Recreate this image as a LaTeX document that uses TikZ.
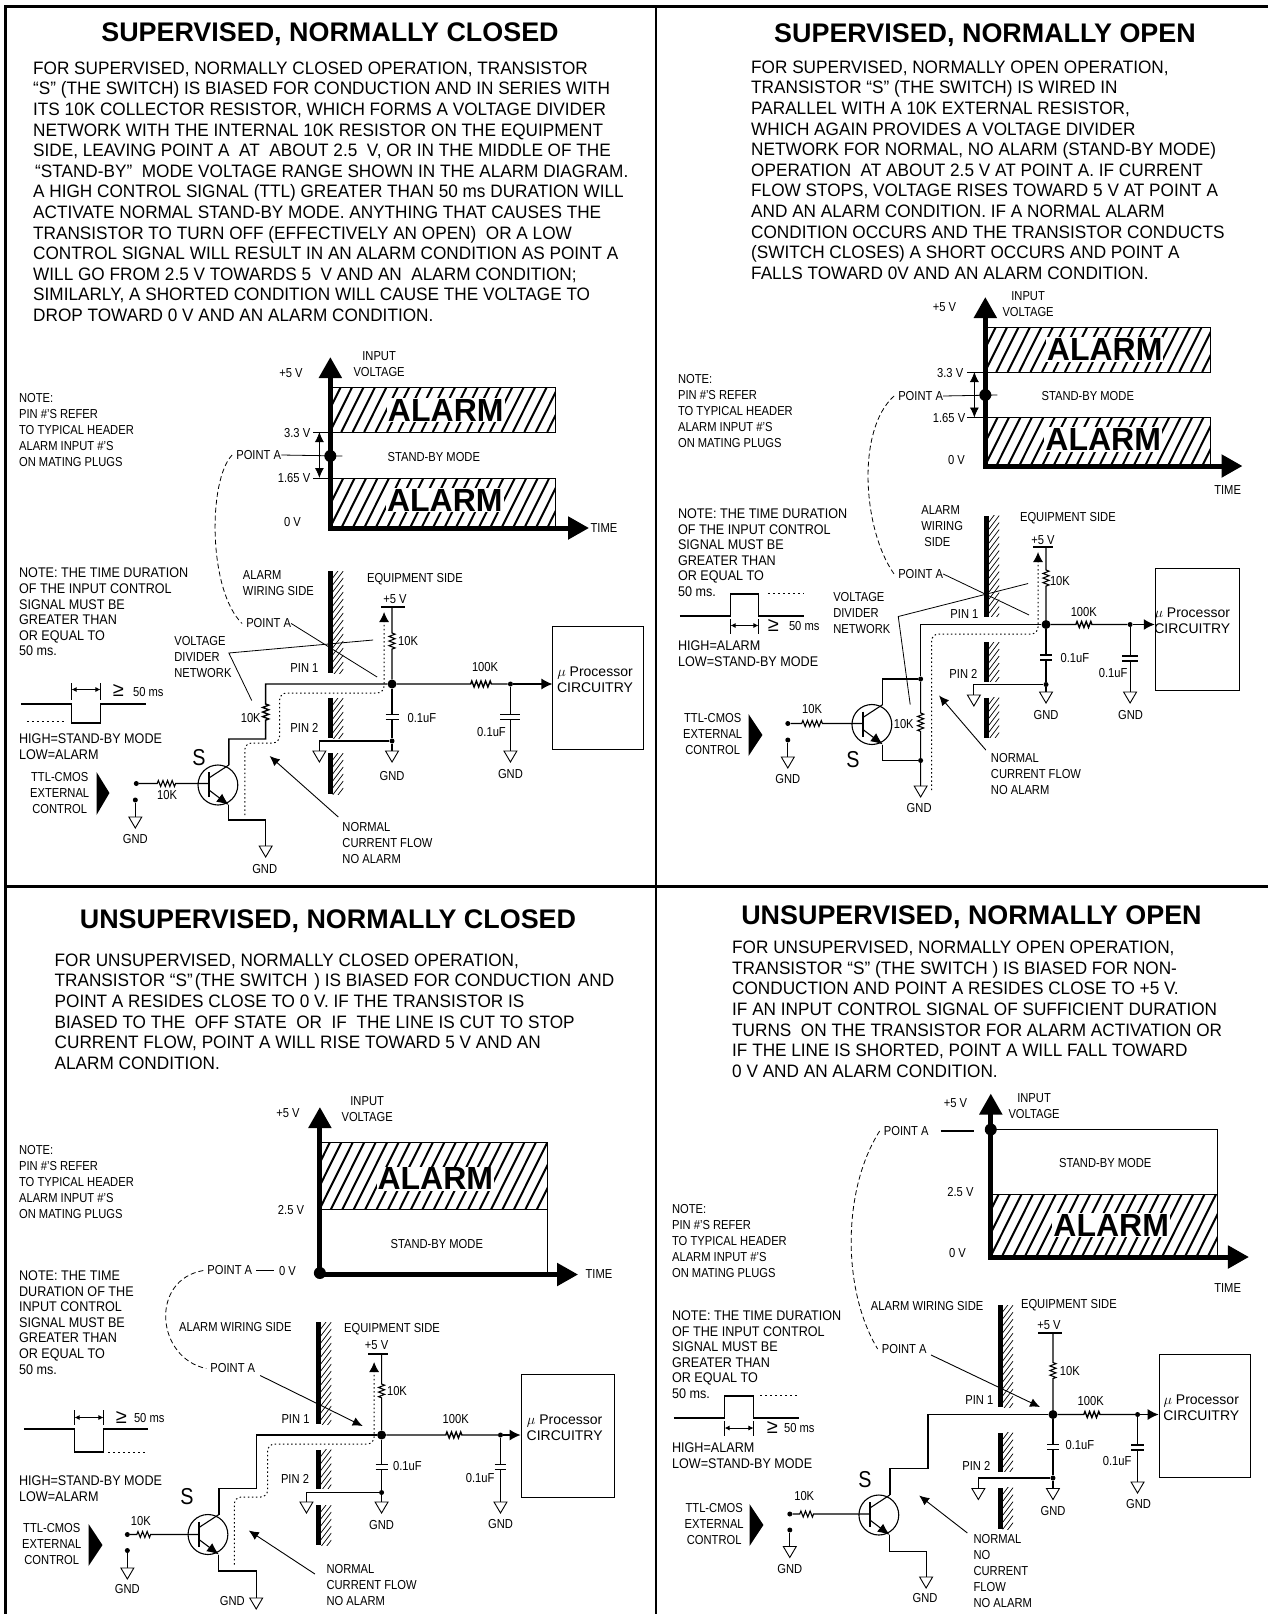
\documentclass[tikz,border=0pt]{standalone}
\usepackage{fontspec}
\setmainfont{Liberation Sans}
\newfontfamily\labelfont[FakeStretch=0.86]{Liberation Sans}
\newfontfamily\notefont[FakeStretch=0.9]{Liberation Sans}
\newfontfamily\bodyfont[FakeStretch=0.955]{Liberation Sans}
\usetikzlibrary{arrows.meta, positioning, decorations.pathmorphing}
\newcommand{\pinnote}{NOTE:\\PIN \#’S REFER\\TO TYPICAL HEADER\\ALARM INPUT \#’S\\ON MATING PLUGS}
\newcommand{\ttlnote}{TTL-CMOS\\EXTERNAL\\CONTROL}
\newcommand{\cpunote}{$\mu$ Processor\\CIRCUITRY}
\tikzset{
    frameline/.style={line width=3pt},
    titletext/.style={font=\bfseries\fontsize{26.9}{30}\selectfont, inner sep=0pt},
    bodytext/.style={font=\bodyfont\fontsize{18}{20.6}\selectfont, anchor=north west, align=left, inner sep=0pt},
    lbl/.style={font=\labelfont\fontsize{13}{16}\selectfont, align=center, inner sep=0pt},
    lblblock/.style={font=\labelfont\fontsize{13}{16}\selectfont, anchor=north west, align=left, inner sep=0pt},
    cpulabel/.style={font=\fontsize{14}{15.5}\selectfont, align=center, inner sep=0pt},
    noteblock/.style={font=\notefont\fontsize{14}{15.6}\selectfont, anchor=north west, align=left, inner sep=0pt},
    geqmark/.style={font=\fontsize{20}{20}\selectfont, inner sep=0pt},
    tagtext/.style={font=\labelfont\fontsize{23}{23}\selectfont, inner sep=0pt},
    alarmtext/.style={font=\bfseries\fontsize{32}{32}\selectfont, fill=white, inner sep=1pt},
    axisline/.style={line width=5pt, line join=miter, {Triangle[length=21pt,width=22pt]}-{Triangle[length=21pt,width=22pt]}},
    thinline/.style={line width=0.8pt},
    wire/.style={line width=1.1pt},
    mainwire/.style={line width=1.4pt},
    wirearrow/.style={line width=1.4pt, -{Latex[length=11pt,width=11pt]}},
    sizearrow/.style={line width=0.8pt, {Latex[length=10pt,width=9pt]}-{Latex[length=10pt,width=9pt]}},
    widtharrow/.style={line width=0.8pt, {Latex[length=5pt,width=5pt]}-{Latex[length=5pt,width=5pt]}},
    callout/.style={line width=0.9pt, -{Latex[length=10pt,width=9pt]}},
    dashedcurve/.style={line width=0.8pt, dash pattern=on 5pt off 3pt},
    dottedlevel/.style={line width=1pt, dash pattern=on 2pt off 3pt},
    flow/.style={line width=1pt, dash pattern=on 1.5pt off 2.6pt, rounded corners=7pt, -{Latex[length=10pt,width=10pt]}},
    reszig/.style={decoration={zigzag, segment length=4.6pt, amplitude=3pt}},
    dotbig/.style={circle, fill=black, minimum size=9pt, inner sep=0pt},
    dotmarker/.style={circle, fill=black, minimum size=12pt, inner sep=0pt},
    dotsmall/.style={circle, fill=black, minimum size=5pt, inner sep=0pt},
    cpubox/.style={draw, line width=1pt, inner sep=0pt},
    pics/gndsym/.style={code={\draw[line width=0.9pt, fill=white] (-6.5,0) -- (6.5,0) -- (0,11) -- cycle;}},
    pics/capplate/.style={code={\draw[line width=1.3pt] (-#1,-2.5) -- (#1,-2.5) (-#1,2.5) -- (#1,2.5);}},
    pics/transistor/.style={code={
        \draw[line width=1.1pt] (0,0) circle (20);
        \draw[line width=1.8pt] (-9,-13) -- (-9,12);
        \draw[wire] (-9,-7) -- (11,-20);
        \draw[wire, -{Latex[length=12pt,width=10pt]}] (-9,5) -- (11,20);
    }},
    pics/wall/.style={code={
        \fill (-2.3,0) rectangle (2.3,#1);
        \begin{scope}
            \clip (2.3,0) rectangle (13,#1);
            \foreach \d in {-7,0,...,#1} {\draw[line width=0.7pt] (2.3,\d+14) -- (13,\d);}
        \end{scope}
    }},
    pics/alarmzone/.style 2 args={code={
        \draw[line width=1pt] (0,0) rectangle (#1,#2);
        \begin{scope}
            \clip (0,0) rectangle (#1,#2);
            \foreach \d in {-58,-46.5,...,#1} {\draw[line width=2pt] ({\d},#2) -- ({\d+0.5*#2},0);}
        \end{scope}
    }}
}
\begin{document}
\begin{tikzpicture}[x=1pt, y=-1pt]
    \useasboundingbox (0,0) rectangle (1268,1614);
    % Frame
    \coordinate (frametl) at (5,6.5); \coordinate (frametr) at (1268,6.5);
    \coordinate (framebl) at (5,1614); \coordinate (framemidl) at (5,886.5); \coordinate (framemidr) at (1268,886.5);
    \coordinate (frametm) at (656,6.5); \coordinate (framebm) at (656,1614);
    \draw[frameline] (framebl) -- (frametl) -- (frametr);
    \draw[frameline] (framemidl) -- (framemidr);
    \draw[line width=2.5pt] (frametm) -- (framebm);

    % ---- Supervised, normally closed ----
    \node[titletext] (titlesc) at (330,34) {SUPERVISED, NORMALLY CLOSED};
    \node[bodytext] (bodysc) at (33,61.5) {FOR SUPERVISED, NORMALLY CLOSED OPERATION, TRANSISTOR\\
        “S” (THE SWITCH) IS BIASED FOR CONDUCTION AND IN SERIES WITH\\
        ITS 10K COLLECTOR RESISTOR, WHICH FORMS A VOLTAGE DIVIDER\\
        NETWORK WITH THE INTERNAL 10K RESISTOR ON THE EQUIPMENT\\
        SIDE, LEAVING POINT A~~AT~~ABOUT 2.5~~V, OR IN THE MIDDLE OF THE\\
        \hspace{2pt}“STAND-BY”~~MODE VOLTAGE RANGE SHOWN IN THE ALARM DIAGRAM.\\
        A HIGH CONTROL SIGNAL (TTL) GREATER THAN 50 ms DURATION WILL\\
        ACTIVATE NORMAL STAND-BY MODE. ANYTHING THAT CAUSES THE\\
        TRANSISTOR TO TURN OFF (EFFECTIVELY AN OPEN)~~OR A LOW\\
        CONTROL SIGNAL WILL RESULT IN AN ALARM CONDITION AS POINT A\\
        WILL GO FROM 2.5 V TOWARDS 5~~V AND AN~~ALARM CONDITION;\\
        SIMILARLY, A SHORTED CONDITION WILL CAUSE THE VOLTAGE TO\\
        DROP TOWARD 0 V AND AN ALARM CONDITION.};
    \begin{scope}[x=0.995pt]
    % Graph
    \pic at (332,387) {alarmzone={226}{45}};
    \pic at (332,478) {alarmzone={226}{50}};
    \node[alarmtext] (alarmasc) at (448,410) {ALARM};
    \node[alarmtext] (alarmbsc) at (447,500) {ALARM};
    \coordinate (originsc) at (332,528); \coordinate (ytipsc) at (332,357); \coordinate (xtipsc) at (592,528);
    \draw[axisline] (ytipsc) -- (originsc) -- (xtipsc);
    \draw[thinline] (315,432) -- (332,432) (315,478) -- (332,478);
    \draw[sizearrow] (321,432) -- (321,478);
    \node[dotmarker] (markersc) at (332,456) {};
    \node[lbl] (pointasc) at (260,455) {POINT A};
    \coordinate (markerendsc) at (344,456);
    \draw[thinline] (pointasc.east) -- (markerendsc);
    \node[lbl] (vfivesc) at (292.5,373) {+5 V};
    \node[lbl] (inputsc) at (381,364) {INPUT\\VOLTAGE};
    \node[lbl, anchor=east] (vhighsc) at (312,433) {3.3 V};
    \node[lbl, anchor=east] (vlowsc) at (312,478) {1.65 V};
    \node[lbl] (vzerosc) at (294,522) {0 V};
    \node[lbl] (standbysc) at (436,457) {STAND-BY MODE};
    \node[lbl] (timesc) at (607,528) {TIME};
    % Notes
    \node[lblblock] (pinnotesc) at (19,393) {\pinnote};
    \node[noteblock] (durationsc) at (19,568) {NOTE: THE TIME DURATION\\OF THE INPUT CONTROL\\SIGNAL MUST BE\\GREATER THAN\\OR EQUAL TO\\50 ms.};
    \node[noteblock] (levelssc) at (19,734) {HIGH=STAND-BY MODE\\LOW=ALARM};
    % Pulse
    \draw[wire] (21,704) -- (72,704) -- (72,723) -- (101,723) -- (101,704) -- (147,704);
    \draw[dottedlevel] (27,721.5) -- (67,721.5);
    \draw[thinline] (72,683) -- (72,700) (101,683) -- (101,700);
    \draw[widtharrow] (72,689.5) -- (101,689.5);
    \node[geqmark] (geqsc) at (119,690) {≥};
    \node[lbl] (widthsc) at (149,692) {50 ms};
    % Walls
    \pic at (332,571) {wall=102};
    \pic at (332,698) {wall=40};
    \pic at (332,753) {wall=41};
    \node[lblblock] (wiringsc) at (244,570) {ALARM\\WIRING SIDE};
    \node[lbl] (equipsc) at (417,579) {EQUIPMENT SIDE};
    \node[lbl] (pinasc) at (306,668) {PIN 1};
    \node[lbl] (pinbsc) at (306,728) {PIN 2};
    % Circuit
    \node[dotbig] (junctionsc) at (394,684) {};
    \node[dotsmall] (filtersc) at (513,684) {};
    \node[dotsmall] (gndtapsc) at (394,741) {};
    \node[dotsmall] (contactasc) at (137,783.5) {};
    \node[dotsmall] (contactbsc) at (136,800) {};
    \node[cpubox, minimum width=91pt, minimum height=122.5pt] (cpusc) at (601.5,688) {};
    \node[cpulabel] (cpulabelsc) at (598,679.5) {\cpunote};
    \coordinate (railsc) at (394,607);
    \coordinate (gndasc) at (394,751); \coordinate (gndbsc) at (321,751); \coordinate (gndcsc) at (513,751);
    \coordinate (gnddsc) at (136,817); \coordinate (gndesc) at (267,846);
    \draw[wire] (383,607) -- (407,607);
    \node[lbl] (railtextsc) at (397,599) {+5 V};
    \draw[wire] (railsc) -- (394,633) decorate[reszig] {-- (394,650)} -- (junctionsc);
    \node[lbl, anchor=west] (rtopsc) at (400,641) {10K};
    \draw[mainwire] (junctionsc) -- (473,684) decorate[reszig] {-- (495,684)} -- (filtersc);
    \draw[wirearrow] (filtersc) -- (cpusc.west |- filtersc);
    \node[lbl] (rfiltersc) at (487.5,667) {100K};
    \draw[wire] (junctionsc) -- (394,714.5) (394,719.5) -- (gndtapsc) -- (gndasc);
    \pic at (394,717) {capplate=6.5};
    \node[lbl] (caplabelsc) at (424,718) {0.1uF};
    \draw[wire] (gndtapsc) -- (321,741) -- (gndbsc);
    \draw[wire] (filtersc) -- (513,714.5) (513,719.5) -- (gndcsc);
    \pic at (513,717) {capplate=10};
    \node[lbl] (capfiltersc) at (494,732) {0.1uF};
    \pic at (gndasc) {gndsym}; \pic at (gndbsc) {gndsym}; \pic at (gndcsc) {gndsym};
    \pic at (gnddsc) {gndsym}; \pic at (gndesc) {gndsym};
    \node[lbl] (gndtextasc) at (394,775.6) {GND};
    \node[lbl] (gndtextcsc) at (513,774) {GND};
    \node[lbl] (gndtextdsc) at (136,838.6) {GND};
    \node[lbl] (gndtextesc) at (266,868.6) {GND};
    % Transistor side
    \pic at (219,785) {transistor};
    \draw[mainwire] (junctionsc) -- (267,684) -- (267,704) decorate[reszig] {-- (267,722)} -- (267,739) -- (230,739) -- (230,765);
    \node[lbl] (rcollsc) at (252,718) {10K};
    \draw[wire] (230,805) -- (230,820) -- (267,820) -- (gndesc);
    \draw[wire] (contactasc) -- (158,783.5) decorate[reszig] {-- (177,783.5)} -- (210,783.5);
    \draw[wire] (contactbsc) -- (gnddsc);
    \node[lbl] (rbasesc) at (168,795.5) {10K};
    \node[tagtext] (switchsc) at (200,758) {S};
    \fill (97,772) -- (110,793) -- (97,815) -- cycle;
    \node[lbl] (ttlsc) at (60,793) {\ttlnote};
    % Callouts
    \draw[flow] (246,815) -- (246,743) -- (281,743) -- (281,693) -- (386,693) -- (386,612);
    \node[lblblock] (normalsc) at (344,822) {NORMAL\\CURRENT FLOW\\NO ALARM};
    \coordinate (flowmarksc) at (271,756); \coordinate (normalstartsc) at (340,817);
    \draw[callout] (normalstartsc) -- (flowmarksc);
    \node[lbl] (pointbsc) at (270,623.5) {POINT A};
    \coordinate (pointendsc) at (379,677);
    \draw[thinline] (pointbsc.east) -- (pointendsc);
    \node[lblblock] (dividersc) at (175,636) {VOLTAGE\\DIVIDER\\NETWORK};
    \coordinate (divtopsc) at (375,640); \coordinate (divbotsc) at (253,700.5);
    \draw[thinline] (divtopsc) -- (230,653) -- (divbotsc);
    \draw[dashedcurve] ([xshift=-4pt]pointasc.west) .. controls (209,480) and (209,590) .. ([xshift=-4pt]pointbsc.west);
    \end{scope}

    % ---- Supervised, normally open ----
    \node[titletext] (titleso) at (985,35) {SUPERVISED, NORMALLY OPEN};
    \node[bodytext] (bodyso) at (751,60.5) {FOR SUPERVISED, NORMALLY OPEN OPERATION,\\
        TRANSISTOR “S” (THE SWITCH) IS WIRED IN\\
        PARALLEL WITH A 10K EXTERNAL RESISTOR,\\
        WHICH AGAIN PROVIDES A VOLTAGE DIVIDER\\
        NETWORK FOR NORMAL, NO ALARM (STAND-BY MODE)\\
        OPERATION~~AT ABOUT 2.5 V AT POINT A. IF CURRENT\\
        FLOW STOPS, VOLTAGE RISES TOWARD 5 V AT POINT A\\
        AND AN ALARM CONDITION. IF A NORMAL ALARM\\
        CONDITION OCCURS AND THE TRANSISTOR CONDUCTS\\
        (SWITCH CLOSES) A SHORT OCCURS AND POINT A\\
        FALLS TOWARD 0V AND AN ALARM CONDITION.};
    \begin{scope}[shift={(3.25,0)}, x=0.995pt]
    % Graph
    \pic at (987,327) {alarmzone={226}{45}};
    \pic at (987,417.5) {alarmzone={226}{48.5}};
    \node[alarmtext] (alarmaso) at (1107,349.5) {ALARM};
    \node[alarmtext] (alarmbso) at (1105.5,439.5) {ALARM};
    \coordinate (originso) at (987,466); \coordinate (ytipso) at (987,297); \coordinate (xtipso) at (1245.5,466);
    \draw[axisline] (ytipso) -- (originso) -- (xtipso);
    \draw[thinline] (969,372) -- (987,372) (969,417.5) -- (987,417.5);
    \draw[sizearrow] (976,372) -- (976,417.5);
    \node[dotmarker] (markerso) at (987,395) {};
    \node[lbl] (pointaso) at (922,396) {POINT A};
    \coordinate (markerendso) at (999,395);
    \draw[thinline] (pointaso.east) -- (markerendso);
    \node[lbl] (vfiveso) at (946,307) {+5 V};
    \node[lbl] (inputso) at (1030,304) {INPUT\\VOLTAGE};
    \node[lbl, anchor=east] (vhighso) at (965,373) {3.3 V};
    \node[lbl, anchor=east] (vlowso) at (967,418) {1.65 V};
    \node[lbl] (vzeroso) at (958,460.5) {0 V};
    \node[lbl] (standbyso) at (1090,396.5) {STAND-BY MODE};
    \node[lbl] (timeso) at (1230.5,490) {TIME};
    % Notes
    \node[lblblock] (pinnoteso) at (678,374) {\pinnote};
    \node[noteblock] (durationso) at (678,508.5) {NOTE: THE TIME DURATION\\OF THE INPUT CONTROL\\SIGNAL MUST BE\\GREATER THAN\\OR EQUAL TO\\50 ms.};
    \node[noteblock] (levelsso) at (678,641) {HIGH=ALARM\\LOW=STAND-BY MODE};
    % Pulse
    \draw[wire] (680,616) -- (731,616) -- (731,594) -- (759,594) -- (759,616) -- (805,616);
    \draw[dottedlevel] (769,593) -- (805,593);
    \draw[thinline] (731,618.5) -- (731,634) (759,618.5) -- (759,634);
    \draw[widtharrow] (731,625.5) -- (759,625.5);
    \node[geqmark] (geqso) at (774,625) {≥};
    \node[lbl] (widthso) at (805,626.5) {50 ms};
    % Walls
    \pic at (988,515.5) {wall=101};
    \pic at (988,642) {wall=39.5};
    \pic at (988,697.5) {wall=40};
    \node[lblblock] (wiringso) at (922.5,505) {ALARM\\WIRING\\\hspace{3pt}SIDE};
    \node[lbl] (equipso) at (1070,518.5) {EQUIPMENT SIDE};
    \node[lbl] (pinaso) at (966,614) {PIN 1};
    \node[lbl] (pinbso) at (965,673.5) {PIN 2};
    % Circuit
    \node[dotbig] (junctionso) at (1048,624.5) {};
    \node[dotsmall] (filterso) at (1132.5,624.5) {};
    \node[dotsmall] (gndtapso) at (1048,684.5) {};
    \node[dotsmall] (colltapso) at (922,679) {};
    \node[dotsmall] (emittapso) at (922,760.5) {};
    \node[dotsmall] (contactaso) at (788.5,723.5) {};
    \node[dotsmall] (contactbso) at (788.5,740) {};
    \node[cpubox, minimum width=84pt, minimum height=122pt] (cpuso) at (1200,629) {};
    \node[cpulabel] (cpulabelso) at (1195,620.5) {\cpunote};
    \coordinate (railso) at (1048,547);
    \coordinate (gndaso) at (1048,692); \coordinate (gndbso) at (975.5,695); \coordinate (gndcso) at (1132.5,692);
    \coordinate (gnddso) at (788.5,757); \coordinate (gndeso) at (922,786);
    \draw[wire] (1035,547) -- (1055,547);
    \node[lbl] (railtextso) at (1045,540) {+5 V};
    \draw[wire] (railso) -- (1048,570) decorate[reszig] {-- (1048,587)} -- (junctionso);
    \node[lbl] (rtopso) at (1062,581) {10K};
    \draw[mainwire] (junctionso) -- (1078,624.5) decorate[reszig] {-- (1096,624.5)} -- (filterso);
    \draw[wirearrow] (filterso) -- (cpuso.west |- filterso);
    \node[lbl] (rfilterso) at (1086,612.5) {100K};
    \draw[wire] (junctionso) -- (1048,655) (1048,660) -- (gndtapso) -- (gndaso);
    \pic at (1048,657.5) {capplate=6};
    \node[lbl] (caplabelso) at (1077,658) {0.1uF};
    \draw[wire] (gndtapso) -- (975.5,684.5) -- (gndbso);
    \draw[wire] (filterso) -- (1132.5,656) (1132.5,661) -- (gndcso);
    \pic at (1132.5,658.5) {capplate=8};
    \node[lbl] (capfilterso) at (1115.5,673.5) {0.1uF};
    \pic at (gndaso) {gndsym}; \pic at (gndbso) {gndsym}; \pic at (gndcso) {gndsym};
    \pic at (gnddso) {gndsym}; \pic at (gndeso) {gndsym};
    \node[lbl] (gndtextaso) at (1048,715) {GND};
    \node[lbl] (gndtextcso) at (1133,715) {GND};
    \node[lbl] (gndtextdso) at (788.5,779) {GND};
    \node[lbl] (gndtexteso) at (920.5,808.5) {GND};
    % Transistor side
    \pic at (873,724.5) {transistor};
    \draw[mainwire] (junctionso) -- (922,624.5) -- (colltapso);
    \draw[wire] (colltapso) -- (922,713) decorate[reszig] {-- (922,732)} -- (emittapso) -- (gndeso);
    \draw[wire] (colltapso) -- (884,679) -- (884,704.5);
    \draw[wire] (emittapso) -- (884,760.5) -- (884,744.5);
    \node[lbl] (rcollso) at (905,724) {10K};
    \draw[wire] (contactaso) -- (802.5,723.5) decorate[reszig] {-- (824,723.5)} -- (864,723.5);
    \draw[wire] (contactbso) -- (gnddso);
    \node[lbl] (rbaseso) at (813,709.5) {10K};
    \node[tagtext] (switchso) at (854,759.5) {S};
    \fill (749,714) -- (763,735) -- (749,756) -- cycle;
    \node[lbl] (ttlso) at (713,734) {\ttlnote};
    % Callouts
    \draw[flow] (933,790) -- (933,634) -- (1040,634) -- (1040,552);
    \node[lblblock] (normalso) at (992.5,753.5) {NORMAL\\CURRENT FLOW\\NO ALARM};
    \coordinate (flowmarkso) at (940.5,695.5); \coordinate (normalstartso) at (987.5,750);
    \draw[callout] (normalstartso) -- (flowmarkso);
    \node[lbl] (pointbso) at (922,574) {POINT A};
    \coordinate (pointendso) at (1031,615);
    \draw[thinline] (pointbso.east) -- (pointendso);
    \node[lblblock] (dividerso) at (834,592) {VOLTAGE\\DIVIDER\\NETWORK};
    \coordinate (divtopso) at (1030,583.5); \coordinate (divbotso) at (911.5,704.5);
    \draw[thinline] (divtopso) -- (899.5,616.5) -- (divbotso);
    \draw[dashedcurve] ([xshift=-4pt]pointaso.west) .. controls (857,430) and (864,530) .. ([xshift=-4pt]pointbso.west);
    \end{scope}

    % ---- Unsupervised, normally closed ----
    \node[titletext] (titleuc) at (328,921.5) {UNSUPERVISED, NORMALLY CLOSED};
    \node[bodytext] (bodyuc) at (54.5,953.5) {FOR UNSUPERVISED, NORMALLY CLOSED OPERATION,\\
        TRANSISTOR “S”\hspace{2pt}(THE SWITCH\hspace{2pt} ) IS BIASED FOR CONDUCTION\hspace{2pt} AND\\
        POINT A RESIDES CLOSE TO 0 V. IF THE TRANSISTOR IS\\
        BIASED TO THE~~OFF STATE~~OR~~IF~~THE LINE IS CUT TO STOP\\
        CURRENT FLOW, POINT A WILL RISE TOWARD 5 V AND AN\\
        ALARM CONDITION.};
    \begin{scope}[x=0.995pt]
    % Graph
    \pic at (321.5,1142) {alarmzone={228.5}{67.5}};
    \draw[line width=1pt] (321.5,1209.5) rectangle (550,1274.5);
    \node[alarmtext] (alarmauc) at (437.5,1178.5) {ALARM};
    \coordinate (originuc) at (321.5,1274.5); \coordinate (ytipuc) at (321.5,1107); \coordinate (xtipuc) at (581,1274.5);
    \draw[axisline] (ytipuc) -- (originuc) -- (xtipuc);
    \node[dotmarker] (markeruc) at (321.5,1273) {};
    \node[lbl] (pointauc) at (231,1270.5) {POINT A};
    \node[lbl] (vzerouc) at (289,1271) {0 V};
    \coordinate (levelstartuc) at (257.5,1270.5); \coordinate (levelenduc) at (275,1270.5);
    \draw[wire] (levelstartuc) -- (levelenduc);
    \node[lbl] (vfiveuc) at (289.5,1113) {+5 V};
    \node[lbl] (inputuc) at (369,1109) {INPUT\\VOLTAGE};
    \node[lbl] (vmiduc) at (292.5,1210) {2.5 V};
    \node[lbl] (standbyuc) at (439,1244.5) {STAND-BY MODE};
    \node[lbl] (timeuc) at (602,1274.5) {TIME};
    % Notes
    \node[lblblock] (pinnoteuc) at (19,1145) {\pinnote};
    \node[noteblock] (durationuc) at (19,1270.5) {NOTE: THE TIME\\DURATION OF THE\\INPUT CONTROL\\SIGNAL MUST BE\\GREATER THAN\\OR EQUAL TO\\50 ms.};
    \node[noteblock] (levelsuc) at (19,1475.5) {HIGH=STAND-BY MODE\\LOW=ALARM};
    % Pulse
    \draw[wire] (24,1429) -- (75,1429) -- (75,1452) -- (104,1452) -- (104,1429) -- (149,1429);
    \draw[dottedlevel] (109,1452) -- (146,1452);
    \draw[thinline] (75,1410) -- (75,1425) (104,1410) -- (104,1425);
    \draw[widtharrow] (75,1417.5) -- (104,1417.5);
    \node[geqmark] (gequc) at (122,1417) {≥};
    \node[lbl] (widthuc) at (150,1418.5) {50 ms};
    % Walls
    \pic at (320,1322) {wall=102};
    \pic at (320,1449.5) {wall=39};
    \pic at (320,1505) {wall=40};
    \node[lbl] (wiringuc) at (236.5,1327) {ALARM WIRING SIDE};
    \node[lbl] (equipuc) at (394,1329) {EQUIPMENT SIDE};
    \node[lbl] (pinauc) at (297,1419) {PIN 1};
    \node[lbl] (pinbuc) at (296.5,1479) {PIN 2};
    % Circuit
    \node[dotbig] (junctionuc) at (383.5,1435) {};
    \node[dotsmall] (filteruc) at (503,1435) {};
    \node[dotsmall] (gndtapuc) at (383.5,1492.5) {};
    \node[dotsmall] (contactauc) at (128,1534.5) {};
    \node[dotsmall] (contactbuc) at (128,1550.5) {};
    \node[cpubox, minimum width=93.5pt, minimum height=123pt] (cpuuc) at (570.75,1435.5) {};
    \node[cpulabel] (cpulabeluc) at (567.5,1427.5) {\cpunote};
    \coordinate (railuc) at (383.5,1354);
    \coordinate (gndauc) at (383.5,1502); \coordinate (gndbuc) at (308,1502); \coordinate (gndcuc) at (503,1502);
    \coordinate (gndduc) at (128,1568); \coordinate (gndeuc) at (257.5,1598);
    \draw[wire] (370,1354) -- (390,1354);
    \node[lbl] (railtextuc) at (378.5,1345.5) {+5 V};
    \draw[wire] (railuc) -- (383.5,1384) decorate[reszig] {-- (383.5,1399)} -- (junctionuc);
    \node[lbl] (rtopuc) at (399,1391) {10K};
    \draw[mainwire] (junctionuc) -- (448,1435) decorate[reszig] {-- (465,1435)} -- (filteruc);
    \draw[wirearrow] (filteruc) -- (cpuuc.west |- filteruc);
    \node[lbl] (rfilteruc) at (458,1419) {100K};
    \draw[wire] (junctionuc) -- (383.5,1464.5) (383.5,1469.5) -- (gndtapuc) -- (gndauc);
    \pic at (383.5,1467) {capplate=6};
    \node[lbl] (caplabeluc) at (409.5,1466) {0.1uF};
    \draw[wire] (gndtapuc) -- (308,1492.5) -- (gndbuc);
    \draw[wire] (filteruc) -- (503,1464.5) (503,1469.5) -- (gndcuc);
    \pic at (503,1467) {capplate=6};
    \node[lbl] (capfilteruc) at (482.5,1478.5) {0.1uF};
    \pic at (gndauc) {gndsym}; \pic at (gndbuc) {gndsym}; \pic at (gndcuc) {gndsym};
    \pic at (gndduc) {gndsym}; \pic at (gndeuc) {gndsym};
    \node[lbl] (gndtextauc) at (383.5,1525.5) {GND};
    \node[lbl] (gndtextcuc) at (503,1524.5) {GND};
    \node[lbl] (gndtextduc) at (128,1589) {GND};
    \node[lbl] (gndtexteuc) at (233.5,1601) {GND};
    % Transistor side
    \pic at (209,1534.5) {transistor};
    \draw[mainwire] (junctionuc) -- (257.5,1435) -- (257.5,1488.5) -- (220,1488.5) -- (220,1514.5);
    \draw[wire] (220,1554.5) -- (220,1571) -- (257.5,1571) -- (gndeuc);
    \draw[wire] (contactauc) -- (137.5,1534.5) decorate[reszig] {-- (153,1534.5)} -- (200,1534.5);
    \draw[wire] (contactbuc) -- (gndduc);
    \node[lbl] (rbaseuc) at (141.5,1521) {10K};
    \node[tagtext] (switchuc) at (188,1496.5) {S};
    \fill (89,1524) -- (103,1545) -- (89,1566) -- cycle;
    \node[lbl] (ttluc) at (52,1544.5) {\ttlnote};
    % Callouts
    \draw[flow] (235.5,1564.5) -- (235.5,1497) -- (269,1497) -- (269,1444) -- (376,1444) -- (376,1362);
    \node[lblblock] (normaluc) at (328,1564.5) {NORMAL\\CURRENT FLOW\\NO ALARM};
    \coordinate (flowmarkuc) at (250,1530.5); \coordinate (normalstartuc) at (316.5,1574);
    \draw[callout] (normalstartuc) -- (flowmarkuc);
    \node[lbl] (pointbuc) at (234,1368.5) {POINT A};
    \coordinate (pointstartuc) at (261.5,1375.5); \coordinate (pointenduc) at (364.5,1426);
    \draw[callout] (pointstartuc) -- (pointenduc);
    \draw[dashedcurve] ([xshift=-4pt]pointauc.west) .. controls (150,1280) and (157,1358) .. ([xshift=-4pt]pointbuc.west);
    \end{scope}

    % ---- Unsupervised, normally open ----
    \node[titletext] (titleuo) at (971.5,917) {UNSUPERVISED, NORMALLY OPEN};
    \node[bodytext] (bodyuo) at (732,941) {FOR UNSUPERVISED, NORMALLY OPEN OPERATION,\\
        TRANSISTOR “S” (THE SWITCH ) IS BIASED FOR NON-\\
        CONDUCTION AND POINT A RESIDES CLOSE TO +5 V.\\
        IF AN INPUT CONTROL SIGNAL OF SUFFICIENT DURATION\\
        TURNS~~ON THE TRANSISTOR FOR ALARM ACTIVATION OR\\
        IF THE LINE IS SHORTED, POINT A WILL FALL TOWARD\\
        0 V AND AN ALARM CONDITION.};
    \begin{scope}[shift={(3.25,0)}, x=0.995pt]
    % Graph
    \draw[line width=1pt] (992.5,1129.5) rectangle (1220.5,1194);
    \pic at (992.5,1194) {alarmzone={228}{63}};
    \node[alarmtext] (alarmauo) at (1113.5,1225) {ALARM};
    \coordinate (originuo) at (992.5,1257); \coordinate (ytipuo) at (992.5,1093.5); \coordinate (xtipuo) at (1252,1257);
    \draw[axisline] (ytipuo) -- (originuo) -- (xtipuo);
    \node[dotmarker] (markeruo) at (992.5,1129.5) {};
    \node[lbl] (pointauo) at (907.5,1131) {POINT A};
    \coordinate (markerstartuo) at (942,1131); \coordinate (markerenduo) at (975.5,1131);
    \draw[wire] (markerstartuo) -- (markerenduo);
    \node[lbl] (vfiveuo) at (957,1103) {+5 V};
    \node[lbl] (inputuo) at (1036,1106.5) {INPUT\\VOLTAGE};
    \node[lbl] (vmiduo) at (962,1192.5) {2.5 V};
    \node[lbl] (vzerouo) at (959,1253.5) {0 V};
    \node[lbl] (standbyuo) at (1107.5,1163.5) {STAND-BY MODE};
    \node[lbl] (timeuo) at (1230.5,1288) {TIME};
    % Notes
    \node[lblblock] (pinnoteuo) at (672,1204.5) {\pinnote};
    \node[noteblock] (durationuo) at (672,1310.5) {NOTE: THE TIME DURATION\\OF THE INPUT CONTROL\\SIGNAL MUST BE\\GREATER THAN\\OR EQUAL TO\\50 ms.};
    \node[noteblock] (levelsuo) at (672,1443) {HIGH=ALARM\\LOW=STAND-BY MODE};
    % Pulse
    \draw[wire] (674,1418) -- (725,1418) -- (725,1396) -- (754,1396) -- (754,1418) -- (800,1418);
    \draw[dottedlevel] (761,1395) -- (800,1395);
    \draw[thinline] (725,1420.5) -- (725,1436) (754,1420.5) -- (754,1436);
    \draw[widtharrow] (725,1428) -- (754,1428);
    \node[geqmark] (gequo) at (773,1427) {≥};
    \node[lbl] (widthuo) at (800,1428.5) {50 ms};
    % Walls
    \pic at (1002,1305) {wall=102};
    \pic at (1002,1432.5) {wall=39};
    \pic at (1002,1487.5) {wall=41.5};
    \node[lbl] (wiringuo) at (928.5,1306) {ALARM WIRING SIDE};
    \node[lbl] (equipuo) at (1071,1305) {EQUIPMENT SIDE};
    \node[lbl] (pinauo) at (981,1400) {PIN 1};
    \node[lbl] (pinbuo) at (978,1466) {PIN 2};
    % Circuit
    \node[dotbig] (junctionuo) at (1055,1414.5) {};
    \node[dotsmall] (filteruo) at (1140,1414.5) {};
    \node[dotsmall] (gndtapuo) at (1055,1478) {};
    \node[dotsmall] (contactauo) at (790.5,1514) {};
    \node[dotsmall] (contactbuo) at (790.5,1530) {};
    \node[cpubox, minimum width=91.5pt, minimum height=123pt] (cpuuo) at (1207.75,1415.5) {};
    \node[cpulabel] (cpulabeluo) at (1204,1407.5) {\cpunote};
    \coordinate (railuo) at (1055,1333);
    \coordinate (gndauo) at (1055,1488.5); \coordinate (gndbuo) at (980,1488.5); \coordinate (gndcuo) at (1140,1482);
    \coordinate (gndduo) at (790.5,1546.5); \coordinate (gndeuo) at (927.5,1577);
    \draw[wire] (1040,1333) -- (1064,1333);
    \node[lbl] (railtextuo) at (1051,1325) {+5 V};
    \draw[wire] (railuo) -- (1055,1362.5) decorate[reszig] {-- (1055,1379)} -- (junctionuo);
    \node[lbl] (rtopuo) at (1072,1371) {10K};
    \draw[mainwire] (junctionuo) -- (1086,1414.5) decorate[reszig] {-- (1102.5,1414.5)} -- (filteruo);
    \draw[wirearrow] (filteruo) -- (cpuuo.west |- filteruo);
    \node[lbl] (rfilteruo) at (1093,1401) {100K};
    \draw[wire] (junctionuo) -- (1055,1444.5) (1055,1449.5) -- (gndtapuo) -- (gndauo);
    \pic at (1055,1447) {capplate=6};
    \node[lbl] (caplabeluo) at (1082,1445.5) {0.1uF};
    \draw[wire] (gndtapuo) -- (980,1478) -- (gndbuo);
    \draw[wire] (filteruo) -- (1140,1445) (1140,1450) -- (gndcuo);
    \pic at (1140,1447.5) {capplate=6.5};
    \node[lbl] (capfilteruo) at (1119.5,1461) {0.1uF};
    \pic at (gndauo) {gndsym}; \pic at (gndbuo) {gndsym}; \pic at (gndcuo) {gndsym};
    \pic at (gndduo) {gndsym}; \pic at (gndeuo) {gndsym};
    \node[lbl] (gndtextauo) at (1055,1511) {GND};
    \node[lbl] (gndtextcuo) at (1141,1504) {GND};
    \node[lbl] (gndtextduo) at (790.5,1569.5) {GND};
    \node[lbl] (gndtexteuo) at (926.5,1598.5) {GND};
    % Transistor side
    \pic at (880,1515) {transistor};
    \draw[mainwire] (junctionuo) -- (929.5,1414.5) -- (929.5,1468.5) -- (891,1468.5) -- (891,1495);
    \draw[wire] (891,1535) -- (891,1551.5) -- (927.5,1551.5) -- (gndeuo);
    \draw[wire] (contactauo) -- (800.5,1514) decorate[reszig] {-- (816.5,1514)} -- (871,1514);
    \draw[wire] (contactbuo) -- (gndduo);
    \node[lbl] (rbaseuo) at (805,1496) {10K};
    \node[tagtext] (switchuo) at (866,1479.5) {S};
    \fill (750,1504) -- (764,1525) -- (750,1546) -- cycle;
    \node[lbl] (ttluo) at (714.5,1524) {\ttlnote};
    % Callouts
    \node[lblblock] (normaluo) at (975,1534.5) {NORMAL\\NO\\CURRENT\\FLOW\\NO ALARM};
    \coordinate (flowmarkuo) at (920.5,1495.5); \coordinate (normalstartuo) at (969,1533);
    \draw[callout] (normalstartuo) -- (flowmarkuo);
    \node[lbl] (pointbuo) at (905.5,1349) {POINT A};
    \coordinate (pointstartuo) at (932.5,1355); \coordinate (pointenduo) at (1042,1407);
    \draw[callout] (pointstartuo) -- (pointenduo);
    \draw[dashedcurve] ([xshift=-4pt]pointauo.west) .. controls (843,1190) and (843,1290) .. ([xshift=-4pt]pointbuo.west);
    \end{scope}
\end{tikzpicture}
\end{document}
